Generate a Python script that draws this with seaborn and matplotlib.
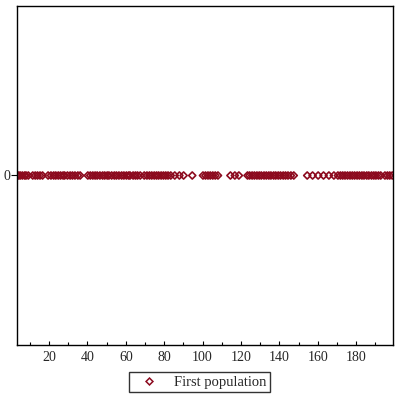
import numpy as np
import pandas as pd
import seaborn as sns
import matplotlib.pyplot as plt
from matplotlib.lines import Line2D
from matplotlib.ticker import MultipleLocator

# sample values (all plotted at y=0)
values = [3.5, 4.2, 5.0, 6.1, 7.3, 8.0, 9.2,
          11.5, 12.8, 14.0, 15.3, 16.6,
          19.5, 21.0, 22.4, 23.5, 24.8, 26.0, 27.3, 28.1, 29.6, 31.0, 32.2, 33.5, 35.0, 36.2,
          40.2, 41.5, 42.8, 44.0, 45.1, 46.5, 47.9, 49.0, 50.3, 51.2, 52.6, 54.0, 55.1, 56.4,
          57.8, 59.0, 60.3, 61.5, 62.2, 63.8, 65.0, 66.1, 67.5,
          69.6, 71.0, 72.3, 73.5, 74.8, 76.0, 77.1, 78.4, 79.6, 80.8, 82.0, 83.4,
          85.5, 87.9, 90.1, 94.6,
          100.2, 101.5, 102.8, 104.0, 105.3, 106.6, 108.0,
          114.5, 116.8, 118.9,
          123.4, 124.5, 125.8, 127.0, 128.3, 129.5, 130.6, 132.0, 133.2, 134.5, 135.6, 137.0,
          138.1, 139.4, 140.6, 142.0, 143.2, 144.5, 146.0, 147.5,
          154.5, 157.3, 160.2, 163.0, 165.8, 168.4,
          170.5, 171.8, 173.0, 174.2, 175.5, 176.8, 178.0, 179.2, 180.5, 181.7, 183.0, 184.1,
          185.5, 186.6, 188.0, 189.2, 190.3, 191.6, 192.8,
          195.0, 196.3, 197.5, 198.8]
series_name = "First population"
x_ticks = [20, 40, 60, 80, 100, 120, 140, 160, 180]

df = pd.DataFrame({"x": values, "y": np.zeros(len(values))})

sns.set_style("white")
plt.rcParams['font.family'] = ['Liberation Serif', 'DejaVu Serif']
col = '#8c0a1e'

fig = plt.figure(figsize=(4, 4), dpi=100)
ax = fig.add_axes([0.0425, 0.1375, 0.94, 0.8475])
sns.scatterplot(data=df, x="x", y="y", ax=ax, marker='D', s=13,
                facecolor='none', edgecolor=col, linewidth=1.2, legend=False)

ax.set_xlim(3.3, 199.2)
ax.set_ylim(-1, 1)
ax.set_xticks(x_ticks)
ax.xaxis.set_minor_locator(MultipleLocator(10))
ax.set_yticks([0])
ax.tick_params(axis='x', which='both', bottom=True, direction='in', labelsize=10,
               length=3, width=0.8, color='black', pad=4)
ax.tick_params(axis='x', which='minor', length=2)
ax.tick_params(axis='y', left=True, direction='out', labelsize=10, length=4,
               width=0.8, color='black', pad=1)
ax.set_xlabel('')
ax.set_ylabel('')
for s in ax.spines.values():
    s.set_visible(True)
    s.set_color('black')
    s.set_linewidth(1.0)

h = Line2D([], [], marker='D', linestyle='none', markerfacecolor='none',
           markeredgecolor=col, markersize=3.5, markeredgewidth=1.1)
leg = ax.legend([h], [series_name], loc='upper center', bbox_to_anchor=(0.485, -0.058),
                frameon=True, fancybox=False, fontsize=10.5, handlelength=2.2,
                borderpad=0.25, handletextpad=0.6)
leg.get_frame().set_edgecolor('black')
leg.get_frame().set_linewidth(1.0)

fig.savefig('out.png', dpi=100)
